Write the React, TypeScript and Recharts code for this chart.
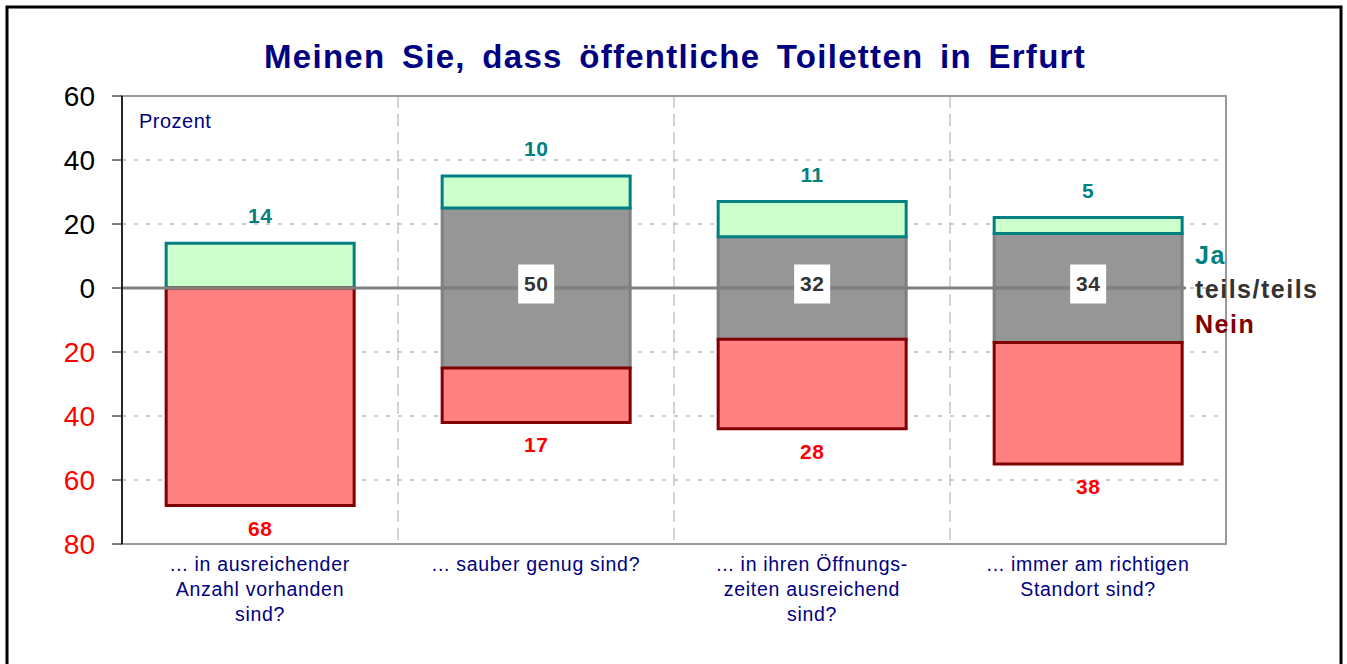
import React from 'react';
import {
  BarChart,
  Bar,
  XAxis,
  YAxis,
  CartesianGrid,
  ReferenceLine,
  ReferenceArea,
  LabelList,
} from 'recharts';

const questions = [
  '... in ausreichender\nAnzahl vorhanden\nsind?',
  '... sauber genug sind?',
  '... in ihren Öffnungs-\nzeiten ausreichend\nsind?',
  '... immer am richtigen\nStandort sind?',
];
const jaValues = [14, 10, 11, 5];
const teilsValues = [0, 50, 32, 34];
const neinValues = [68, 17, 28, 38];
const yTicks = [-80, -60, -40, -20, 0, 20, 40, 60];

const data = questions.map((name, i) => ({
  name,
  ja: jaValues[i],
  teils: teilsValues[i],
  teilsUp: teilsValues[i] / 2,
  teilsDown: -teilsValues[i] / 2,
  nein: neinValues[i],
  neinDown: -neinValues[i],
}));

const FONT = '"Liberation Sans", Arial, sans-serif';
const W = 1347;
const H = 664;

const YTick = (props: any) => {
  const { x, y, payload } = props;
  const v = payload.value as number;
  return (
    <text x={x} y={y + 10} textAnchor="end" fontFamily={FONT} fontSize={28} fill={v < 0 ? '#ff0000' : '#000'}>
      {Math.abs(v)}
    </text>
  );
};

const XTick = (props: any) => {
  const { x, y, payload } = props;
  const lines = String(payload.value).split('\n');
  return (
    <text x={x} y={y + 27} textAnchor="middle" fontFamily={FONT} fontSize={19.5} letterSpacing={0.7} fill="#000080">
      {lines.map((l, i) => (
        <tspan key={i} x={x} dy={i === 0 ? 0 : 25}>
          {l}
        </tspan>
      ))}
    </text>
  );
};

const TeilsLabel = (props: any) => {
  const { x, y, width, height, value } = props;
  if (!value) return null;
  const cx = x + width / 2;
  const cy = y + height - 4;
  return (
    <g>
      <rect x={cx - 18} y={cy - 19.5} width={36} height={39} fill="#fff" />
      <text x={cx} y={cy + 7} textAnchor="middle" fontFamily={FONT} fontWeight="bold" fontSize={21} letterSpacing={0.5} fill="#333">
        {value}
      </text>
    </g>
  );
};

const NeinLabel = (props: any) => {
  const { x, y, width, height, value } = props;
  const bottom = Math.max(y, y + height);
  return (
    <text x={x + width / 2} y={bottom + 30} textAnchor="middle" fontFamily={FONT} fontWeight="bold" fontSize={21} letterSpacing={0.5} fill="#ff0000">
      {value}
    </text>
  );
};

const ZeroLine = (props: any) => {
  const { x1, y1, x2, y2 } = props;
  return <line x1={x1} y1={y1} x2={x2 - 40} y2={y2} stroke="#808080" strokeWidth={3} />;
};

export default function App() {
  return (
    <div style={{ position: 'absolute', left: 0, top: 0, width: W, height: H, background: '#fff' }}>
      <BarChart
        width={W}
        height={H}
        data={data}
        stackOffset="sign"
        barCategoryGap="16%"
        margin={{ top: 96, right: 121, bottom: 90, left: 0 }}
      >
        <ReferenceArea y1={-80} y2={60} fill="none" stroke="#999" strokeWidth={2} ifOverflow="visible" />
        <CartesianGrid horizontal vertical={false} stroke="#999" strokeDasharray="4 8" />
        <CartesianGrid
          horizontal={false}
          vertical
          stroke="#aaa"
          strokeDasharray="12 6"
          verticalCoordinatesGenerator={({ offset }: any) =>
            [1, 2, 3].map((i) => offset.left + (offset.width * i) / 4)
          }
        />
        <XAxis
          dataKey="name"
          height={30}
          interval={0}
          tickLine={false}
          tickSize={0}
          tickMargin={0}
          axisLine={{ stroke: '#999', strokeWidth: 2 }}
          tick={<XTick />}
        />
        <YAxis
          width={122}
          domain={[-80, 60]}
          ticks={yTicks}
          allowDataOverflow
          axisLine={{ stroke: '#000', strokeWidth: 1.5 }}
          tickLine={{ stroke: '#000' }}
          tickSize={10}
          tickMargin={17}
          tick={<YTick />}
        />
        <Bar dataKey="teilsUp" stackId="s" fill="#969696" stroke="#808080" strokeWidth={3} isAnimationActive={false}>
          <LabelList dataKey="teils" content={<TeilsLabel />} />
        </Bar>
        <Bar dataKey="ja" stackId="s" fill="#ccffcc" stroke="#008080" strokeWidth={3} isAnimationActive={false}>
          <LabelList
            dataKey="ja"
            position="top"
            offset={20}
            fill="#008080"
            fontFamily={FONT}
            fontWeight="bold"
            fontSize={21}
            letterSpacing={0.5}
          />
        </Bar>
        <Bar dataKey="teilsDown" stackId="s" fill="#969696" stroke="#808080" strokeWidth={3} isAnimationActive={false} />
        <Bar dataKey="neinDown" stackId="s" fill="#ff8080" stroke="#800000" strokeWidth={3} isAnimationActive={false}>
          <LabelList dataKey="nein" content={<NeinLabel />} />
        </Bar>
        <ReferenceLine y={0} shape={<ZeroLine />} />
      </BarChart>
      <svg width={W} height={H} style={{ position: 'absolute', left: 0, top: 0, pointerEvents: 'none' }}>
        <rect x={7} y={7} width={1334} height={H + 20} fill="none" stroke="#000" strokeWidth={3} />
        <text x={675} y={68} textAnchor="middle" fontFamily={FONT} fontWeight="bold" fontSize={33} letterSpacing={1.3} wordSpacing={6} fill="#000080">
          Meinen Sie, dass öffentliche Toiletten in Erfurt
        </text>
        <text x={139} y={128} fontFamily={FONT} fontSize={20} letterSpacing={0.5} fill="#000080">
          Prozent
        </text>
        <text x={1195} y={264} fontFamily={FONT} fontWeight="bold" fontSize={25} letterSpacing={1.5} fill="#008080">
          Ja
        </text>
        <text x={1195} y={298} fontFamily={FONT} fontWeight="bold" fontSize={25} letterSpacing={1.5} fill="#333">
          teils/teils
        </text>
        <text x={1195} y={333} fontFamily={FONT} fontWeight="bold" fontSize={25} letterSpacing={1.5} fill="#800000">
          Nein
        </text>
      </svg>
    </div>
  );
}
